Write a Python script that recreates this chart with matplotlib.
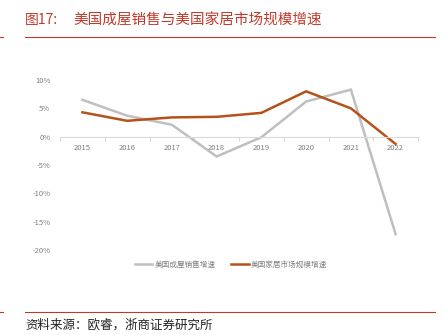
import matplotlib
matplotlib.use("Agg")
import matplotlib.pyplot as plt
from matplotlib.ticker import FuncFormatter, FixedLocator
from matplotlib.lines import Line2D

plt.rcParams['font.family'] = ['Noto Sans CJK SC', 'DejaVu Sans']

years = ['2015', '2016', '2017', '2018', '2019', '2020', '2021', '2022']
home_sales = [6.5, 3.7, 2.1, -3.5, -0.1, 6.2, 8.3, -17.2]
furnishing = [4.3, 2.8, 3.4, 3.5, 4.2, 8.0, 5.0, -1.3]
series_names = ['美国成屋销售增速', '美国家居市场规模增速']
title_num = '图17:'
title = '美国成屋销售与美国家居市场规模增速'
source = '资料来源：欧睿，浙商证券研究所'

gray = '#BFBFBF'
orange = '#B5521B'
red = '#C0392B'
tick_color = '#7F7F7F'

fig = plt.figure(figsize=(4.45, 3.35), dpi=100)
ax = fig.add_axes([60/445, 85/335, 358/445, 170/335])

x = list(range(len(years)))
ax.plot(x, home_sales, color=gray, lw=1.8, solid_joinstyle='miter', label=series_names[0])
ax.plot(x, furnishing, color=orange, lw=1.8, solid_joinstyle='miter', label=series_names[1])

ax.set_xlim(-0.5, len(years) - 0.5)
ax.set_ylim(-20, 10)
ax.set_yticks([-20, -15, -10, -5, 0, 5, 10])
ax.yaxis.set_major_formatter(FuncFormatter(lambda v, p: f'{int(v)}%'))
ax.tick_params(axis='y', length=0, labelsize=5.5, labelcolor=tick_color, pad=7)

for s in ['top', 'right', 'left']:
    ax.spines[s].set_visible(False)
ax.spines['bottom'].set_position(('data', 0))
ax.spines['bottom'].set_color('#D9D9D9')
ax.spines['bottom'].set_linewidth(0.8)
ax.set_xticks(x)
ax.set_xticklabels(years)
ax.tick_params(axis='x', which='major', length=0, labelsize=5.5, labelcolor=tick_color, pad=5)
ax.xaxis.set_minor_locator(FixedLocator([i - 0.5 for i in range(len(years) + 1)]))
ax.tick_params(axis='x', which='minor', length=3, color='#D9D9D9', width=0.8, direction='out')

handles = [Line2D([0], [0], color=gray, lw=1.8), Line2D([0], [0], color=orange, lw=1.8)]
fig.legend(handles, series_names, loc='center', bbox_to_anchor=(231/445, 1 - 265/335),
           ncol=2, frameon=False, fontsize=5.5, labelcolor=tick_color,
           handlelength=2.3, handletextpad=0.3, columnspacing=2.0)

fig.text(25/445, 1 - 20/335, title_num, fontsize=10, color=red, va='center', ha='left')
fig.text(73/445, 1 - 20/335, title, fontsize=10.5, color=red, va='center', ha='left')
fig.add_artist(Line2D([25/445, 435/445], [1 - 37/335, 1 - 37/335], color=red, lw=0.8))
fig.add_artist(Line2D([0, 3/445], [1 - 37/335, 1 - 37/335], color=red, lw=0.8))
fig.add_artist(Line2D([25/445, 435/445], [1 - 312/335, 1 - 312/335], color=red, lw=0.8))
fig.add_artist(Line2D([0, 3/445], [1 - 312/335, 1 - 312/335], color=red, lw=0.8))
fig.text(25/445, 1 - 325/335, source, fontsize=9, color='#222222', va='center', ha='left')

fig.savefig('out.png', dpi=100)
